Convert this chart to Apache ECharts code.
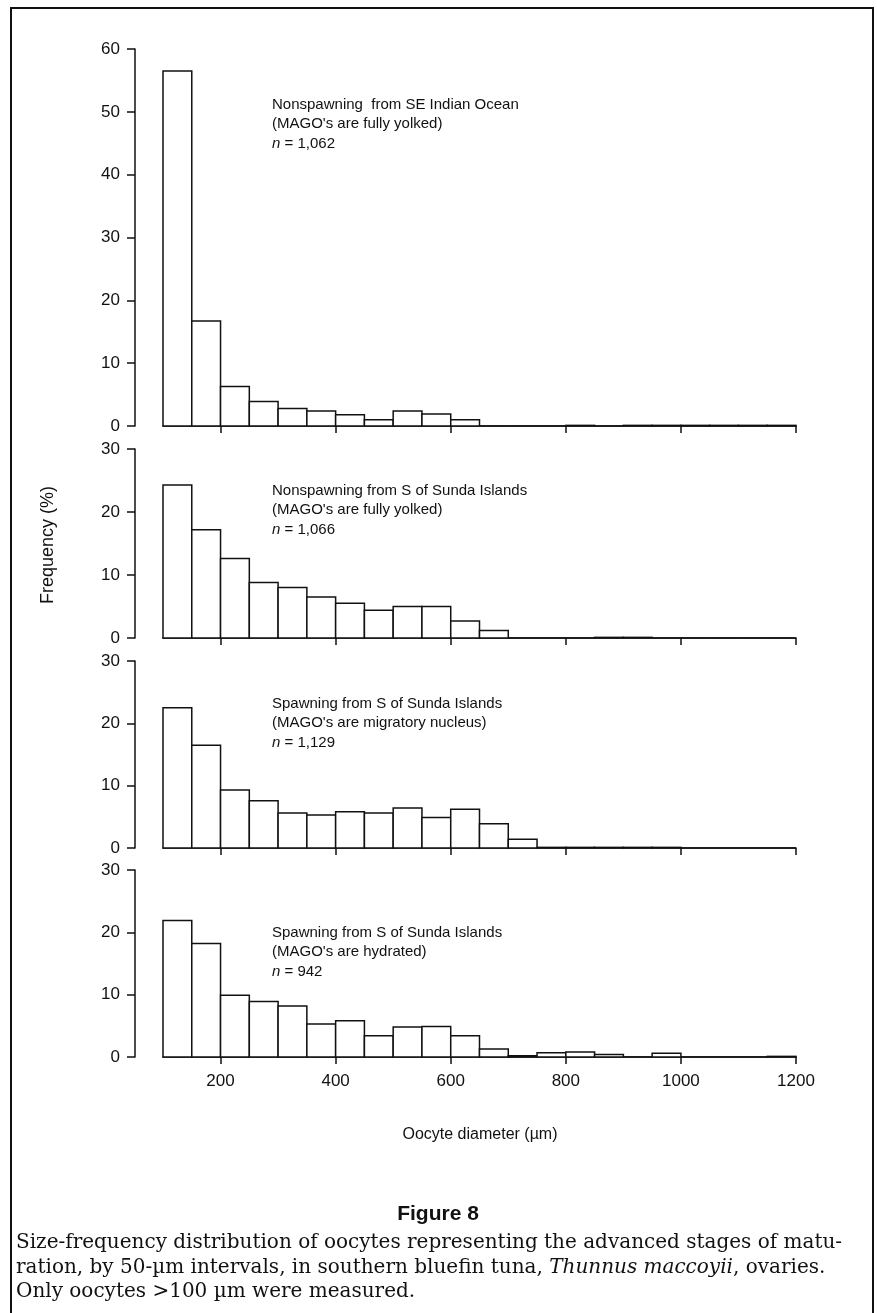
<!DOCTYPE html>
<html><head><meta charset="utf-8">
<script src="https://cdn.jsdelivr.net/npm/echarts@6/dist/echarts.min.js"></script>
<style>html,body{margin:0;padding:0;background:#fff}#c{width:877px;height:1313px}</style>
</head><body><div id="c"></div>
<script>
// Bin starts (µm), 50-µm intervals
const binStarts = [100,150,200,250,300,350,400,450,500,550,600,650,700,750,800,850,900,950,1000,1050,1100,1150];
const binWidth = 50;
// Frequency (%) per panel
const panel1 = [56.5,16.7,6.3,3.9,2.8,2.4,1.8,1.0,2.4,1.9,1.0,0,0,0,0.1,0,0.1,0.1,0.1,0.1,0.1,0.1];
const panel2 = [24.3,17.2,12.6,8.8,8.0,6.5,5.5,4.4,5.0,5.0,2.7,1.2,0,0,0,0.1,0.1,0,0,0,0,0];
const panel3 = [22.5,16.5,9.3,7.6,5.6,5.3,5.8,5.6,6.4,4.9,6.2,3.9,1.4,0.1,0.1,0.1,0.1,0.1,0,0,0,0];
const panel4 = [21.9,18.2,9.9,8.9,8.2,5.3,5.8,3.4,4.8,4.9,3.4,1.3,0.2,0.7,0.8,0.4,0,0.6,0,0,0,0.1];
const panels = [panel1, panel2, panel3, panel4];
const yMax = [60, 30, 30, 30];
const xTicks = [200,400,600,800,1000,1200];
const panelTitles = [
  ['Nonspawning  from SE Indian Ocean', "(MAGO's are fully yolked)", '1,062'],
  ['Nonspawning from S of Sunda Islands', "(MAGO's are fully yolked)", '1,066'],
  ['Spawning from S of Sunda Islands', "(MAGO's are migratory nucleus)", '1,129'],
  ['Spawning from S of Sunda Islands', "(MAGO's are hydrated)", '942']
];
const xName = 'Oocyte diameter (µm)';
const yName = 'Frequency (%)';
const figTitle = 'Figure 8';
const captionLines = [
  'Size-frequency distribution of oocytes representing the advanced stages of matu-',
  'ration, by 50-µm intervals, in southern bluefin tuna, {i|Thunnus maccoyii}, ovaries.',
  'Only oocytes >100 µm were measured.'
];

const grids = [
  {top:49, height:377},
  {top:449, height:189},
  {top:661, height:187},
  {top:870, height:187}
];
const F = '"Liberation Sans", Arial, Helvetica, sans-serif';
const SERIF = '"DejaVu Serif", serif';
const ink = '#111';

const chart = echarts.init(document.getElementById('c'), null, {renderer:'canvas'});
const option = {
  backgroundColor:'#fff',
  animation:false,
  grid: grids.map(g => ({left:163, width:633, top:g.top, height:g.height})),
  xAxis: grids.map((g,i) => ({
    type:'value', gridIndex:i, min:100, max:1200, interval:100,
    axisLine:{show:true, lineStyle:{color:ink, width:1.5}},
    axisTick:{show:true, customValues:xTicks, length:7, inside:false, lineStyle:{color:ink, width:1.5}},
    axisLabel:{show:i===3, customValues:xTicks, color:ink, fontFamily:F, fontSize:17, margin:16,
      formatter:v => String(v)},
    splitLine:{show:false}
  })),
  yAxis: grids.map((g,i) => ({
    type:'value', gridIndex:i, min:0, max:yMax[i], interval:10, offset:28,
    axisLine:{show:true, lineStyle:{color:ink, width:1.5}},
    axisTick:{show:true, length:8, lineStyle:{color:ink, width:1.5}},
    axisLabel:{color:ink, fontFamily:F, fontSize:17, margin:15, formatter:v => String(v)},
    splitLine:{show:false}
  })),
  series: panels.map((vals,i) => ({
    type:'custom', xAxisIndex:i, yAxisIndex:i,
    data: vals.map((v,k) => [binStarts[k], binStarts[k]+binWidth, v]),
    encode:{x:[0,1], y:2},
    renderItem:(params, api) => {
      const p0 = api.coord([api.value(0), api.value(2)]);
      const p1 = api.coord([api.value(1), 0]);
      return {type:'rect', shape:{x:p0[0], y:p0[1], width:p1[0]-p0[0], height:p1[1]-p0[1]},
        style:{fill:'#fff', stroke:ink, lineWidth:1.5}};
    }
  })),
  graphic: [
    {type:'rect', shape:{x:11, y:8, width:862, height:1320}, style:{fill:null, stroke:ink, lineWidth:2}, silent:true, z:100},
    {type:'text', x:48, y:545, rotation:Math.PI/2, style:{text:yName, fill:ink, font:'18px '+F, align:'center', verticalAlign:'middle'}},
    {type:'text', x:480, y:1135, style:{text:xName, fill:ink, font:'16px '+F, align:'center', verticalAlign:'middle'}},
    {type:'text', x:438, y:1214, style:{text:figTitle, fill:ink, font:'bold 21px '+F, align:'center', verticalAlign:'middle'}}
  ].concat(captionLines.map((t,k) => ({
    type:'text', x:16, y:1243 + k*24.5,
    style:{text:t, fill:ink, font:'20px '+SERIF, verticalAlign:'middle',
      rich:{i:{fontStyle:'italic', fontFamily:SERIF, fontSize:20, fill:ink}}}
  }))).concat(panelTitles.map((t,i) => ({
    type:'text', x:272, y:[95, 481, 694, 923][i],
    style:{text:t[0]+'\n'+t[1]+'\n{i|n} = '+t[2], fill:ink, font:'15px '+F, lineHeight:19.5,
      rich:{i:{fontStyle:'italic', fontFamily:F, fontSize:15, fill:ink}}}
  })))
};
chart.setOption(option);
</script></body></html>
